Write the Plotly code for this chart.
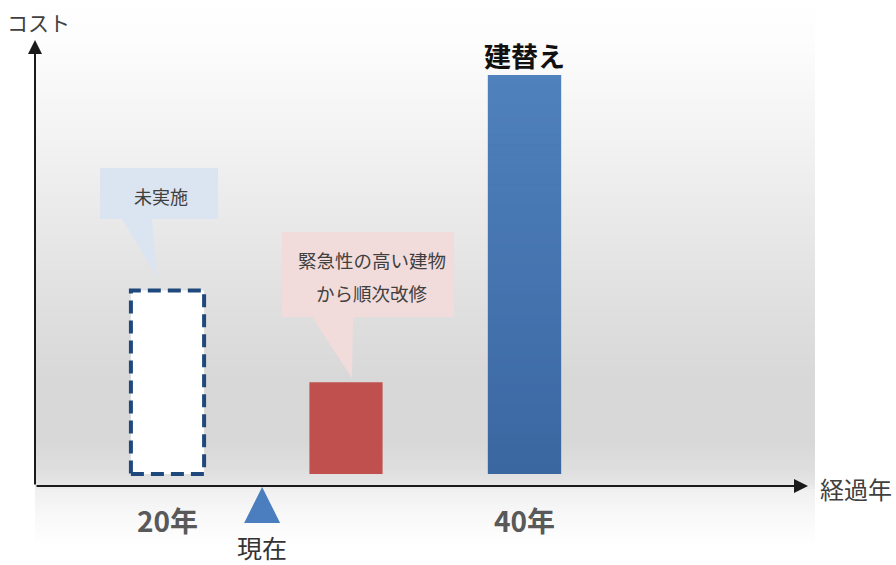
import plotly.graph_objects as go

# --- data -----------------------------------------------------------------
bar_years = [20, 30, 40]              # elapsed years at each stage
bar_costs = [46, 23, 100]             # relative cost at each stage
current_year = 25.3                   # "now" marker on the time axis
year_labels = ["20年", "40年"]
year_label_pos = [20, 40]

W, H = 896, 565
FONT = "Noto Sans CJK JP"

# pixel <-> data helpers (plot area fills the whole figure)
PX_PER_YEAR = 17.85
PX_PER_COST = 3.99
X0_PX, Y0_PX = 167.5, 474.0          # pixel position of (year 20, cost 0)


def X(px):
    return 20 + (px - X0_PX) / PX_PER_YEAR


def Y(py):
    return (Y0_PX - py) / PX_PER_COST


BAR_W = 4.1
AXIS_Y = Y(486)
AXIS_X = X(35)

fig = go.Figure()

# --- background gradient ----------------------------------------------------
stops = [(0, 255), (50, 252), (160, 240), (300, 224), (380, 216), (440, 216),
         (470, 222), (486, 232), (490, 240), (515, 248), (545, 255)]


def grey(py):
    for (a, ga), (b, gb) in zip(stops[:-1], stops[1:]):
        if a <= py <= b:
            return ga + (gb - ga) * (py - a) / (b - a)
    return 255


shapes = []
step = 3
for py in range(0, 546, step):
    g = int(round(grey(py + step / 2)))
    shapes.append(dict(
        type="rect", xref="paper", yref="paper", layer="below",
        x0=35 / W, x1=815 / W, y0=1 - (py + step) / H, y1=1 - py / H,
        line=dict(width=0), fillcolor=f"rgb({g},{g},{g})",
    ))

# --- callout bubbles ---------------------------------------------------------
def path(points):
    return "M " + " L ".join(f"{X(px)},{Y(py)}" for px, py in points) + " Z"


shapes.append(dict(
    type="path", xref="x", yref="y", layer="below",
    path=path([(100, 168), (218, 168), (218, 219), (152, 219), (157, 277),
               (122, 219), (100, 219)]),
    fillcolor="#dbe5f1", line=dict(width=0),
))
shapes.append(dict(
    type="path", xref="x", yref="y", layer="below",
    path=path([(282, 232), (454, 232), (454, 317), (353, 317), (352, 378),
               (312, 317), (282, 317)]),
    fillcolor="#f2dcdb", line=dict(width=0),
))

# --- bars ----------------------------------------------------------------------
colors = ["#ffffff", "#c0504d", "#4674b0"]
fig.add_trace(go.Bar(
    x=bar_years, y=bar_costs, base=0, width=BAR_W,
    marker=dict(color=colors, line=dict(width=0)),
    hoverinfo="skip", showlegend=False,
))

# soft top-to-bottom shading on the rebuild bar
xl, xr = bar_years[2] - BAR_W / 2, bar_years[2] + BAR_W / 2
n_band = 40
top = bar_costs[2]
for i in range(n_band):
    t = i / (n_band - 1)
    r = int(round(79 + (59 - 79) * t))
    g = int(round(129 + (103 - 129) * t))
    b = int(round(189 + (161 - 189) * t))
    shapes.append(dict(
        type="rect", xref="x", yref="y", layer="above",
        x0=xl, x1=xr,
        y0=top * (1 - (i + 1) / n_band), y1=top * (1 - i / n_band),
        line=dict(width=0), fillcolor=f"rgb({r},{g},{b})",
    ))

# dashed outline for the deferred (not carried out) stage
xa, xb = bar_years[0] - BAR_W / 2, bar_years[0] + BAR_W / 2
fig.add_trace(go.Scatter(
    x=[xa, xb, xb, xa, xa],
    y=[0, 0, bar_costs[0], bar_costs[0], 0],
    mode="lines",
    line=dict(color="#1f497d", width=4, dash="13px,7px"),
    hoverinfo="skip", showlegend=False,
))

# "now" marker on the time axis
tri_half = 18 / PX_PER_YEAR
fig.add_trace(go.Scatter(
    x=[current_year - tri_half, current_year + tri_half, current_year,
       current_year - tri_half],
    y=[Y(523), Y(523), Y(487), Y(523)],
    mode="lines", fill="toself", fillcolor="#4a7ebf",
    line=dict(width=0, color="#4a7ebf"),
    hoverinfo="skip", showlegend=False,
))

# --- axes with arrowheads ---------------------------------------------------
ann = []
ann.append(dict(
    x=AXIS_X, y=Y(40), ax=AXIS_X, ay=AXIS_Y, xref="x", yref="y",
    axref="x", ayref="y", text="", showarrow=True,
    arrowhead=2, arrowsize=1.4, arrowwidth=2, arrowcolor="#1a1a1a",
))
ann.append(dict(
    x=X(808), y=AXIS_Y, ax=AXIS_X, ay=AXIS_Y, xref="x", yref="y",
    axref="x", ayref="y", text="", showarrow=True,
    arrowhead=2, arrowsize=1.4, arrowwidth=2, arrowcolor="#1a1a1a",
))

# --- text ----------------------------------------------------------------------
def label(x, y, text, size, color="#404040", bold=False):
    ann.append(dict(
        x=x, y=y, xref="x", yref="y", showarrow=False,
        text=f"<b>{text}</b>" if bold else text,
        font=dict(family=FONT, size=size, color=color),
        xanchor="center", yanchor="middle",
    ))


label(X(38), Y(22), "コスト", 21)
label(X(856), Y(488), "経過年", 24)
for t, xv in zip(year_labels, year_label_pos):
    label(xv, Y(520), t, 28, color="#595959", bold=True)
label(current_year, Y(547), "現在", 25, color="#333333")
label(bar_years[2], Y(55), "建替え", 27, color="#111111", bold=True)
label(X(161), Y(196), "未実施", 18)
label(X(372), Y(260), "緊急性の高い建物", 18.5)
label(X(372), Y(293), "から順次改修", 18.5)

fig.update_layout(
    width=W, height=H,
    margin=dict(l=0, r=0, t=0, b=0),
    paper_bgcolor="white", plot_bgcolor="rgba(0,0,0,0)",
    xaxis=dict(range=[X(0), X(W)], visible=False, fixedrange=True),
    yaxis=dict(range=[Y(H), Y(0)], visible=False, fixedrange=True),
    barmode="overlay",
    shapes=shapes,
    annotations=ann,
    showlegend=False,
)

fig.write_html("out.html")
